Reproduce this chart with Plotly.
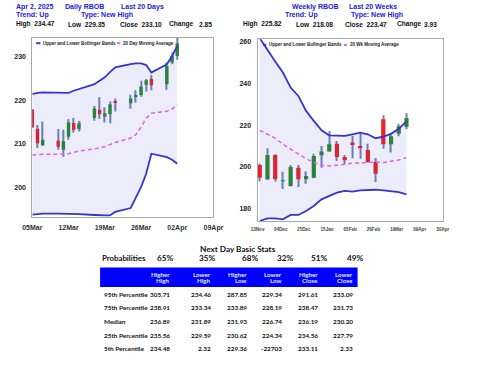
import plotly.graph_objects as go

W, H = 480, 371

# ---------------- Daily data (last 20 days) ----------------
daily_dates = ['2025-03-05', '2025-03-06', '2025-03-07', '2025-03-10', '2025-03-11', '2025-03-12',
               '2025-03-13', '2025-03-14', '2025-03-17', '2025-03-18', '2025-03-19', '2025-03-20',
               '2025-03-21', '2025-03-24', '2025-03-25', '2025-03-26', '2025-03-27', '2025-03-28',
               '2025-03-31', '2025-04-01', '2025-04-02']
daily_open = [217.8, 213.4, 209.6, 210.7, 208.6, 211.6, 214.8, 213.4, 215.9, 217.8, 216.2, 216.8,
              219.7, 219.3, 221.0, 221.2, 223.6, 224.9, 223.7, 228.7, 230.2]
daily_close = [213.8, 210.1, 210.9, 209.3, 210.6, 214.9, 213.2, 214.7, 218.1, 216.8, 217.0, 219.1,
               219.54, 220.4, 221.1, 223.2, 224.6, 223.47, 227.9, 230.25, 233.10]
daily_high = [218.0, 214.3, 215.1, 213.4, 213.2, 215.7, 215.9, 215.3, 218.7, 220.7, 218.4, 219.7,
              220.4, 221.3, 222.3, 224.5, 224.9, 225.82, 228.7, 231.0, 234.47]
daily_low = [213.6, 209.0, 209.6, 208.6, 207.0, 210.9, 212.6, 212.8, 215.3, 215.7, 214.9, 214.7,
             217.4, 218.08, 219.5, 220.8, 222.0, 222.3, 222.4, 228.3, 229.35]
daily_upper = [221.4, 221.7, 221.8, 221.7, 221.7, 221.7, 222.2, 222.6, 223.7, 224.5, 225.3, 226.5,
               227.6, 228.3, 228.5, 228.5, 228.1, 226.4, 228.3, 230.2, 232.5]
daily_ma = [207.4, 207.5, 207.6, 207.6, 207.7, 207.7, 208.0, 208.3, 208.8, 209.0, 209.3, 209.8,
            210.3, 211.3, 212.1, 213.8, 215.9, 217.0, 217.5, 218.0, 219.0]
daily_lower = [193.7, 193.8, 193.9, 193.9, 193.9, 193.9, 193.8, 193.8, 193.6, 193.5, 193.5, 193.5,
               194.3, 195.2, 197.7, 200.0, 203.1, 207.7, 206.9, 206.3, 205.4]

# ---------------- Weekly data (last 20 weeks) ----------------
weekly_dates = ['2024-11-15', '2024-11-22', '2024-11-29', '2024-12-06', '2024-12-13', '2024-12-20',
                '2024-12-27', '2025-01-03', '2025-01-10', '2025-01-17', '2025-01-24', '2025-01-31',
                '2025-02-07', '2025-02-14', '2025-02-21', '2025-02-28', '2025-03-07', '2025-03-14',
                '2025-03-21', '2025-03-28']
weekly_open = [201.0, 194.1, 205.8, 193.4, 190.9, 199.7, 194.1, 194.9, 205.6, 207.4, 211.2, 204.8,
               211.7, 210.1, 208.2, 202.4, 222.9, 210.9, 215.9, 219.3]
weekly_close = [194.9, 205.8, 194.1, 193.5, 200.0, 194.1, 195.7, 205.3, 207.4, 210.9, 204.8, 203.2,
                210.6, 209.0, 202.4, 196.8, 210.9, 214.7, 219.54, 223.47]
weekly_high = [201.6, 209.0, 206.1, 197.7, 201.0, 201.0, 197.8, 206.4, 210.1, 217.3, 212.5, 205.8,
               214.9, 216.0, 211.2, 204.3, 224.8, 215.9, 220.7, 225.82]
weekly_low = [193.0, 193.8, 193.0, 189.5, 190.6, 190.4, 192.0, 194.6, 199.7, 207.4, 202.9, 201.3,
              204.2, 204.0, 202.1, 192.8, 208.8, 206.9, 214.7, 218.08]
weekly_upper = [261.8, 256.0, 250.6, 245.3, 238.1, 234.1, 226.9, 222.1, 217.6, 215.2, 214.9, 214.9,
                215.7, 216.5, 215.7, 213.8, 214.6, 215.9, 218.3, 221.9]
weekly_ma = [217.6, 215.7, 213.8, 210.9, 208.5, 206.1, 204.0, 202.1, 200.8, 200.5, 200.8, 201.3,
             201.8, 202.1, 202.4, 202.4, 202.1, 202.6, 203.4, 204.5]
weekly_lower = [174.1, 175.4, 175.4, 174.9, 177.0, 177.0, 178.9, 181.3, 184.5, 186.1, 187.7, 188.5,
                188.2, 188.8, 189.0, 189.1, 188.8, 188.5, 188.0, 186.9]

# ---------------- Header texts ----------------
daily_head1 = ['Apr 2, 2025', 'Daily RBOB', 'Last 20 Days']
daily_head2 = ['Trend: Up', 'Type: New High']
weekly_head1 = ['Weekly RBOB', 'Last 20 Weeks']
weekly_head2 = ['Trend: Up', 'Type: New High']
stat_labels = ['High', 'Low', 'Close']
daily_stats = ['234.47', '229.35', '233.10']
weekly_stats = ['225.82', '218.08', '223.47']
change_label = 'Change'
daily_change = '2.85'
weekly_change = '3.93'

# ---------------- Table data ----------------
prob_values = ['65%', '35%', '68%', '32%', '51%', '49%']
col_top = ['Higher', 'Lower', 'Higher', 'Lower', 'Higher', 'Lower']
col_bottom = ['High', 'High', 'Low', 'Low', 'Close', 'Close']
row_labels = ['95th Percentile', '75th Percentile', 'Median', '25th Percentile', '5th Percentile']
table_values = [
    ['305.71', '234.46', '287.85', '229.34', '291.61', '233.09'],
    ['238.91', '233.34', '233.89', '228.19', '238.47', '231.73'],
    ['236.89', '231.89', '231.93', '226.74', '236.19', '230.20'],
    ['235.56', '229.59', '230.62', '224.34', '234.56', '227.79'],
    ['234.48', '2.32', '229.36', '-22703', '233.11', '2.33'],
]

# ---------------- Styles ----------------
BAND = '#3535cc'
FILL = 'rgba(70,70,215,0.10)'
MA = '#dd66dd'
GREEN = '#2a8a2a'
RED = '#ee2020'
WICK = '#6a86b8'
HBLUE = '#2020e0'
HFONT = 'Liberation Sans'
AFONT = 'Liberation Sans'
TFONT = 'Lato'
DAY = 86400000

fig = go.Figure()


def add_panel(xa, ya, dates, o, h, l, c, up, ma, lo, wick_w, body_w):
    fig.add_trace(go.Scatter(x=dates, y=up, mode='lines', line=dict(color=BAND, width=1.8),
                             xaxis=xa, yaxis=ya, hoverinfo='skip', showlegend=False))
    fig.add_trace(go.Scatter(x=dates, y=lo, mode='lines', line=dict(color=BAND, width=1.8),
                             fill='tonexty', fillcolor=FILL,
                             xaxis=xa, yaxis=ya, hoverinfo='skip', showlegend=False))
    fig.add_trace(go.Scatter(x=dates, y=ma, mode='lines', line=dict(color=MA, width=1.5, dash='4px,3px'),
                             xaxis=xa, yaxis=ya, hoverinfo='skip', showlegend=False))
    # wicks
    fig.add_trace(go.Bar(x=dates, y=[hh - ll for hh, ll in zip(h, l)], base=l,
                         width=wick_w, marker=dict(color=WICK, line=dict(width=0)),
                         xaxis=xa, yaxis=ya, hoverinfo='skip', showlegend=False))
    # bodies
    fig.add_trace(go.Bar(x=dates, y=[abs(cc - oo) for oo, cc in zip(o, c)],
                         base=[min(oo, cc) for oo, cc in zip(o, c)],
                         width=body_w,
                         marker=dict(color=[GREEN if cc >= oo else RED for oo, cc in zip(o, c)],
                                     line=dict(width=0)),
                         xaxis=xa, yaxis=ya, hoverinfo='skip', showlegend=False))


add_panel('x', 'y', daily_dates, daily_open, daily_high, daily_low, daily_close,
          daily_upper, daily_ma, daily_lower, 0.22 * DAY, 0.66 * DAY)
add_panel('x2', 'y2', weekly_dates, weekly_open, weekly_high, weekly_low, weekly_close,
          weekly_upper, weekly_ma, weekly_lower, 1.05 * DAY, 3.8 * DAY)

axis_common = dict(showgrid=False, zeroline=False, showline=True, mirror=True,
                   linecolor='#a8a8a8', linewidth=1, ticks='')

fig.update_layout(
    width=W, height=H, margin=dict(l=0, r=0, t=0, b=0),
    paper_bgcolor='white', plot_bgcolor='white', barmode='overlay', showlegend=False,
    xaxis=dict(domain=[23.3 / W, 212.3 / W], anchor='y', type='date',
               range=['2025-03-05', '2025-04-09'], tick0='2025-03-05', dtick=7 * DAY,
               tickformat='%d%b', ticklabelstandoff=3,
               tickfont=dict(family=AFONT, size=7, color='#333', weight='bold'),
               rangeslider=dict(visible=False), **axis_common),
    yaxis=dict(domain=[1 - 217 / H, 1 - 37 / H], anchor='x', range=[193.04, 234.36], dtick=10,
               ticklabelstandoff=4,
               tickfont=dict(family=AFONT, size=7, color='#222', weight='bold'), **axis_common),
    xaxis2=dict(domain=[258.3 / W, 451.7 / W], anchor='y2', type='date',
                range=['2024-11-13', '2025-04-30'], tick0='2024-11-13', dtick=21 * DAY,
                tickformat='%d%b', ticklabelstandoff=3,
                tickfont=dict(family=AFONT, size=4.6, color='#444', weight='bold'),
                rangeslider=dict(visible=False), **axis_common),
    yaxis2=dict(domain=[1 - 220.7 / H, 1 - 38.3 / H], anchor='x2', range=[174.05, 261.3], dtick=20,
                ticklabelstandoff=4,
                tickfont=dict(family=AFONT, size=7, color='#222', weight='bold'), **axis_common),
)


def txt(x, y, s, size, color, anchor='left', family=HFONT, bold=True):
    fig.add_annotation(x=x / W, y=1 - y / H, xref='paper', yref='paper', text=s, showarrow=False,
                       xanchor=anchor, yanchor='middle', borderpad=0,
                       font=dict(family=family, size=size, color=color,
                                 weight='bold' if bold else 'normal'))


def seg(x0, x1, y, color, width, dash='solid'):
    fig.add_shape(type='line', xref='paper', yref='paper', x0=x0 / W, x1=x1 / W,
                  y0=1 - y / H, y1=1 - y / H, line=dict(color=color, width=width, dash=dash))


HS = 7
BS = 6.6
NB = '&nbsp;&nbsp;'
# Daily header
for s, x in zip(daily_head1, [5.7, 56.7, 115]):
    txt(x, 5.7, s, HS, HBLUE)
for s, x in zip(daily_head2, [5.7, 72.7]):
    txt(x, 14.2, s, HS, HBLUE)
for lab, val, xl in zip(stat_labels, daily_stats, [5.7, 59.5, 113.3]):
    txt(xl, 23.3, lab + NB + val, BS, '#111')
txt(165, 23.3, change_label, BS, '#111')
txt(211.7, 23.3, daily_change, BS, '#111', anchor='right')

# Weekly header
for s, x in zip(weekly_head1, [293.3, 352.7]):
    txt(x, 5.7, s, HS, HBLUE)
for s, x in zip(weekly_head2, [285.7, 355]):
    txt(x, 14.2, s, HS, HBLUE)
for lab, val, xl in zip(stat_labels, weekly_stats, [241.7, 297, 348.3]):
    txt(xl, 23.3, lab + NB + val, BS, '#111')
txt(402.3, 23.3, change_label, BS, '#111')
txt(446.7, 23.3, weekly_change, BS, '#111', anchor='right')

# In-plot legends
seg(27.3, 31.7, 42.3, BAND, 2)
txt(33.3, 42.3, 'Upper and Lower Bollinger Bands', 4.5, '#222', family=AFONT)
seg(111.7, 115, 42.3, MA, 2)
txt(116.7, 42.3, '20 Day Moving Average', 4.5, '#222', family=AFONT)
seg(264, 267.3, 44, BAND, 2)
txt(269.5, 44, 'Upper and Lower Bollinger Bands', 4.5, '#222', family=AFONT)
seg(348.3, 351.7, 44, MA, 2)
txt(353.3, 44, '20 Wk Moving Average', 4.5, '#222', family=AFONT)

# Table
txt(238.3, 248.3, 'Next Day Basic Stats', 8.2, '#111', anchor='center', family=TFONT)
txt(95, 257.7, 'Probabilities', 7.8, '#111', family=TFONT)
for s, x in zip(prob_values, [162, 206, 250, 287.3, 322.7, 360]):
    txt(x, 257.7, s, 8.2, '#111', anchor='center', family=TFONT)

fig.add_shape(type='rect', xref='paper', yref='paper', x0=94 / W, x1=362.7 / W,
              y0=1 - 286.7 / H, y1=1 - 267.3 / H, fillcolor='#0000ff', line=dict(width=0))
col_right = [168.3, 210.7, 248.3, 285, 322.7, 358.8]
for a, b, x in zip(col_top, col_bottom, col_right):
    txt(x, 274, a, 6.2, '#e4ecff', anchor='right', family=TFONT)
    txt(x, 280.7, b, 6.2, '#e4ecff', anchor='right', family=TFONT)

row_y = [294, 307.3, 321, 335, 348.7]
for lab, vals, y in zip(row_labels, table_values, row_y):
    txt(96.7, y, lab, 6.4, '#111', family=TFONT)
    for v, x in zip(vals, col_right):
        txt(x, y, v, 6.4, '#111', anchor='right', family=TFONT)

fig.write_html('out.html', config={'displayModeBar': False},
               post_script="document.body.style.margin='0';document.body.style.overflow='hidden';")
